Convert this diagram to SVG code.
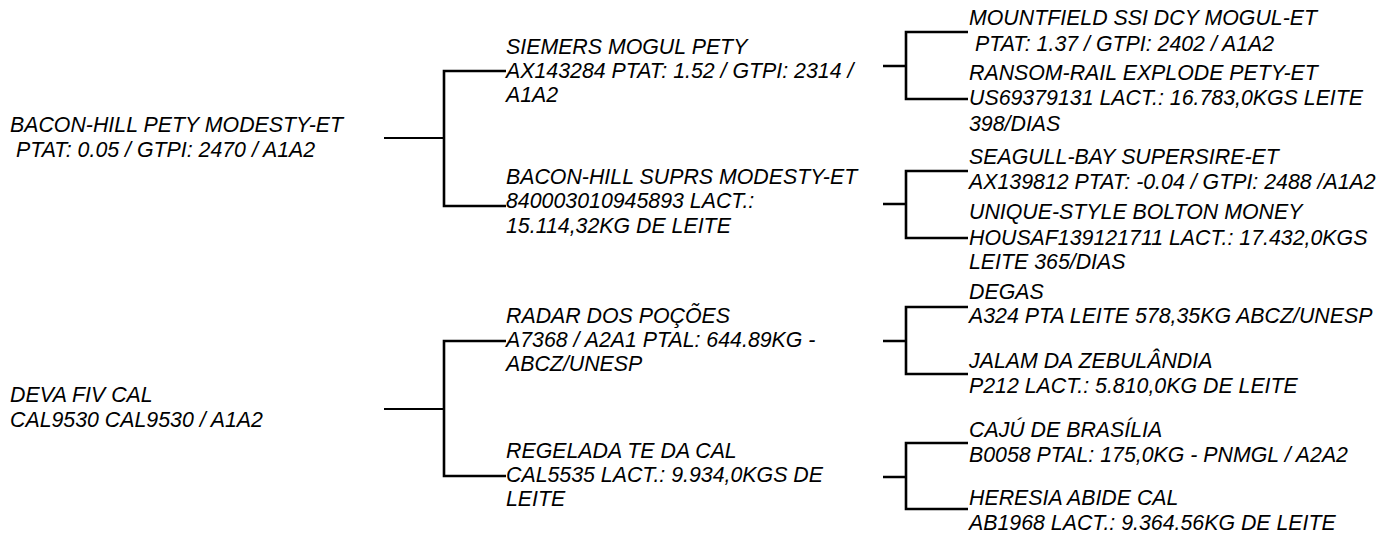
<svg xmlns="http://www.w3.org/2000/svg" width="1386" height="533" viewBox="0 0 1386 533">
<style>
text{font-family:"Liberation Sans",Arial,sans-serif;font-style:italic;font-size:21.33px;fill:#000}
.c{fill:none;stroke:#000;stroke-width:2.6}
.s{fill:none;stroke:#000;stroke-width:2}
</style>
<rect width="1386" height="533" fill="#fff"/>
<g id="connectors">
<path class="s" d="M384 138H444"/>
<path class="c" d="M506 71H444V206H506"/>
<path class="s" d="M384 409H444"/>
<path class="c" d="M506 341H444V476H506"/>
<path class="c" d="M883 66H906M968 32H906V99H968"/>
<path class="c" d="M883 204H906M968 171H906V238H968"/>
<path class="c" d="M883 341H906M968 307H906V374H968"/>
<path class="c" d="M883 477H906M968 443H906V509H968"/>
</g>
<g id="n1"><text x="10" y="132">BACON-HILL PETY MODESTY-ET</text><text x="16" y="157">PTAT: 0.05 / GTPI: 2470 / A1A2</text></g>
<g id="n2"><text x="10" y="402">DEVA FIV CAL</text><text x="10" y="427">CAL9530 CAL9530 / A1A2</text></g>
<g id="n3"><text x="506" y="54">SIEMERS MOGUL PETY</text><text x="506" y="78">AX143284 PTAT: 1.52 / GTPI: 2314 /</text><text x="506" y="102">A1A2</text></g>
<g id="n4"><text x="506" y="184">BACON-HILL SUPRS MODESTY-ET</text><text x="506" y="208">840003010945893 LACT.:</text><text x="506" y="233">15.114,32KG DE LEITE</text></g>
<g id="n5"><text x="506" y="323">RADAR DOS POÇÕES</text><text x="506" y="347">A7368 / A2A1 PTAL: 644.89KG -</text><text x="506" y="371">ABCZ/UNESP</text></g>
<g id="n6"><text x="506" y="458">REGELADA TE DA CAL</text><text x="506" y="482">CAL5535 LACT.: 9.934,0KGS DE</text><text x="506" y="506">LEITE</text></g>
<g id="n7"><text x="969" y="25">MOUNTFIELD SSI DCY MOGUL-ET</text><text x="975" y="51">PTAT: 1.37 / GTPI: 2402 / A1A2</text></g>
<g id="n8"><text x="969" y="80">RANSOM-RAIL EXPLODE PETY-ET</text><text x="969" y="105">US69379131 LACT.: 16.783,0KGS LEITE</text><text x="969" y="131">398/DIAS</text></g>
<g id="n9"><text x="969" y="164">SEAGULL-BAY SUPERSIRE-ET</text><text x="969" y="189">AX139812 PTAT: -0.04 / GTPI: 2488 /A1A2</text></g>
<g id="n10"><text x="969" y="219">UNIQUE-STYLE BOLTON MONEY</text><text x="969" y="245">HOUSAF139121711 LACT.: 17.432,0KGS</text><text x="969" y="269">LEITE 365/DIAS</text></g>
<g id="n11"><text x="969" y="299">DEGAS</text><text x="969" y="323">A324 PTA LEITE 578,35KG ABCZ/UNESP</text></g>
<g id="n12"><text x="969" y="368">JALAM DA ZEBULÂNDIA</text><text x="969" y="393">P212 LACT.: 5.810,0KG DE LEITE</text></g>
<g id="n13"><text x="969" y="437">CAJÚ DE BRASÍLIA</text><text x="969" y="462">B0058 PTAL: 175,0KG - PNMGL / A2A2</text></g>
<g id="n14"><text x="969" y="505">HERESIA ABIDE CAL</text><text x="969" y="530">AB1968 LACT.: 9.364.56KG DE LEITE</text></g>
</svg>
